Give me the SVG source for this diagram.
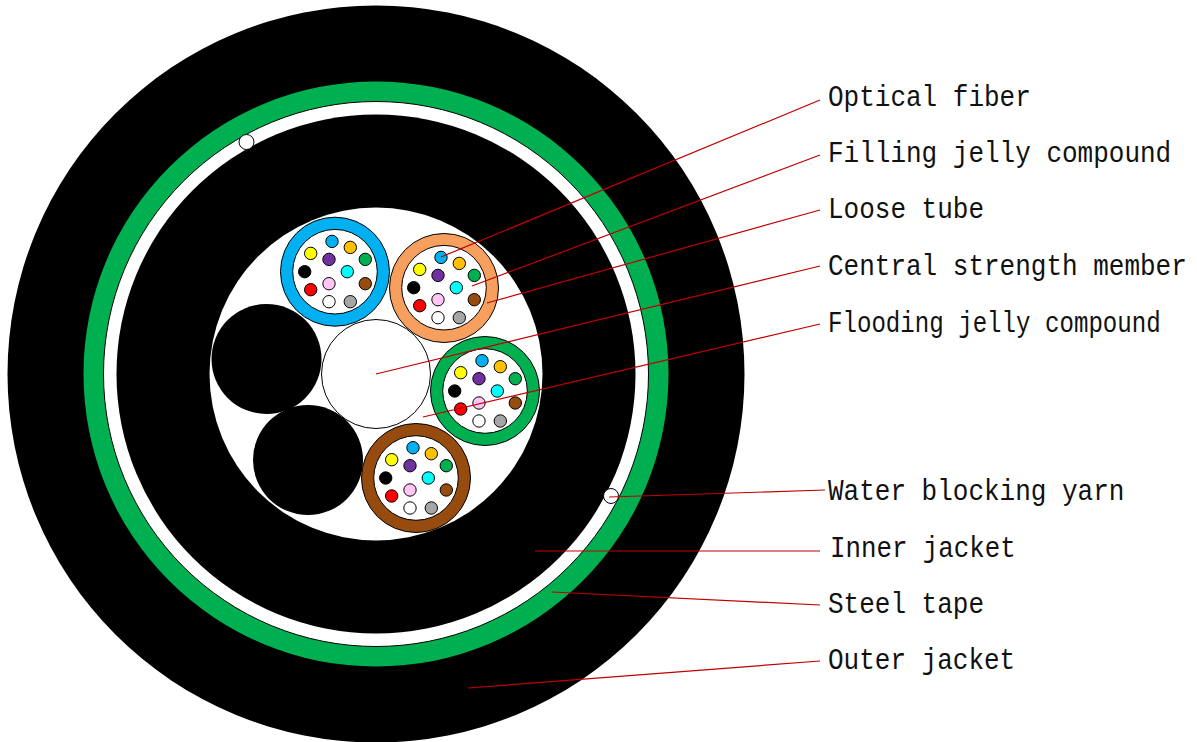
<svg xmlns="http://www.w3.org/2000/svg" xmlns:xlink="http://www.w3.org/1999/xlink" width="1197" height="742" viewBox="0 0 1197 742">
<style>
.k{stroke:#000;stroke-width:1}
.tw{fill:#fff;stroke:#000;stroke-width:1}
.ld{stroke:#c00000;stroke-width:1.2;fill:none}
text{font-family:"Liberation Mono","DejaVu Sans Mono",monospace;font-size:30px;fill:#111}
</style>
<defs>
<g id="fibers">
<circle class="tw" r="42.3"/>
<g class="k">
<circle cx="-3" cy="-30.3" r="6.2" fill="#00b0f0"/>
<circle cx="15.3" cy="-24.3" r="6.2" fill="#ffc000"/>
<circle cx="30.3" cy="-12.3" r="6.2" fill="#00b050"/>
<circle cx="30.3" cy="12" r="6.2" fill="#964b0f"/>
<circle cx="15.3" cy="30" r="6.2" fill="#a6a6a6"/>
<circle cx="-6" cy="30" r="6.2" fill="#fff"/>
<circle cx="-6" cy="12" r="6.2" fill="#ffc6f5"/>
<circle cx="12.3" cy="0" r="6.2" fill="#00ffff"/>
<circle cx="-6" cy="-12.3" r="6.2" fill="#7030a0"/>
<circle cx="-24.3" cy="-18.3" r="6.2" fill="#ffff00"/>
<circle cx="-30.3" cy="0" r="6.2" fill="#000"/>
<circle cx="-24.3" cy="18" r="6.2" fill="#ff0000"/>
</g>
</g>
</defs>
<rect width="1197" height="742" fill="#fff"/>
<g id="outer-jacket"><circle cx="376" cy="374" r="368.500" fill="#000"/></g>
<g id="steel-tape"><circle cx="376" cy="374" r="292.500" fill="#00b050"/></g>
<g id="gap"><circle cx="376" cy="374" r="272.500" fill="#fff" stroke="#000"/></g>
<g id="inner-jacket"><circle cx="376" cy="374" r="259.500" fill="#000"/></g>
<g id="core"><circle cx="376" cy="374" r="166.500" fill="#fff"/></g>
<g id="yarn-a"><circle class="tw" cx="246.500" cy="142" r="7.500"/></g>
<g id="yarn-b"><circle class="tw" cx="611" cy="496" r="7.500"/></g>
<g id="central-member"><circle class="tw" cx="376" cy="374" r="54.500"/></g>
<g id="filler-a"><circle cx="266.500" cy="359" r="55" fill="#000"/></g>
<g id="filler-b"><circle cx="308" cy="460" r="55" fill="#000"/></g>
<g id="tube-blue"><circle class="k" cx="335" cy="271.700" r="54.500" fill="#00b0f0"/><use xlink:href="#fibers" href="#fibers" x="335" y="271.700"/></g>
<g id="tube-orange"><circle class="k" cx="444" cy="288" r="54.500" fill="#f79f5f"/><use xlink:href="#fibers" href="#fibers" x="444" y="287.700"/></g>
<g id="tube-green"><circle class="k" cx="485" cy="391" r="54.500" fill="#00b050"/><use xlink:href="#fibers" href="#fibers" x="485" y="391"/></g>
<g id="tube-brown"><circle class="k" cx="416" cy="478" r="54.500" fill="#964b0f"/><use xlink:href="#fibers" href="#fibers" x="416" y="478"/></g>
<g id="connectors">
<path class="ld" d="M441 257L820 100"/>
<path class="ld" d="M472 286L820 155"/>
<path class="ld" d="M487 303L820 210"/>
<path class="ld" d="M376 374L820 266"/>
<path class="ld" d="M423 417L820 324"/>
<path class="ld" d="M609 497L825 490"/>
<path class="ld" d="M535 551L820 551"/>
<path class="ld" d="M552 592L820 605"/>
<path class="ld" d="M468 688L820 661"/>
</g>
<g id="labels">
<text transform="translate(828 106) scale(.867 1)">Optical fiber</text>
<text transform="translate(828 162) scale(.867 1)">Filling jelly compound</text>
<text transform="translate(828 218) scale(.867 1)">Loose tube</text>
<text transform="translate(828 275) scale(.867 1)">Central strength member</text>
<text transform="translate(828 332) scale(.804 1)">Flooding jelly compound</text>
<text transform="translate(828 500) scale(.867 1)">Water blocking yarn</text>
<text transform="translate(830 557) scale(.86 1)">Inner jacket</text>
<text transform="translate(828 613) scale(.867 1)">Steel tape</text>
<text transform="translate(828 669) scale(.867 1)">Outer jacket</text>
</g>
</svg>
